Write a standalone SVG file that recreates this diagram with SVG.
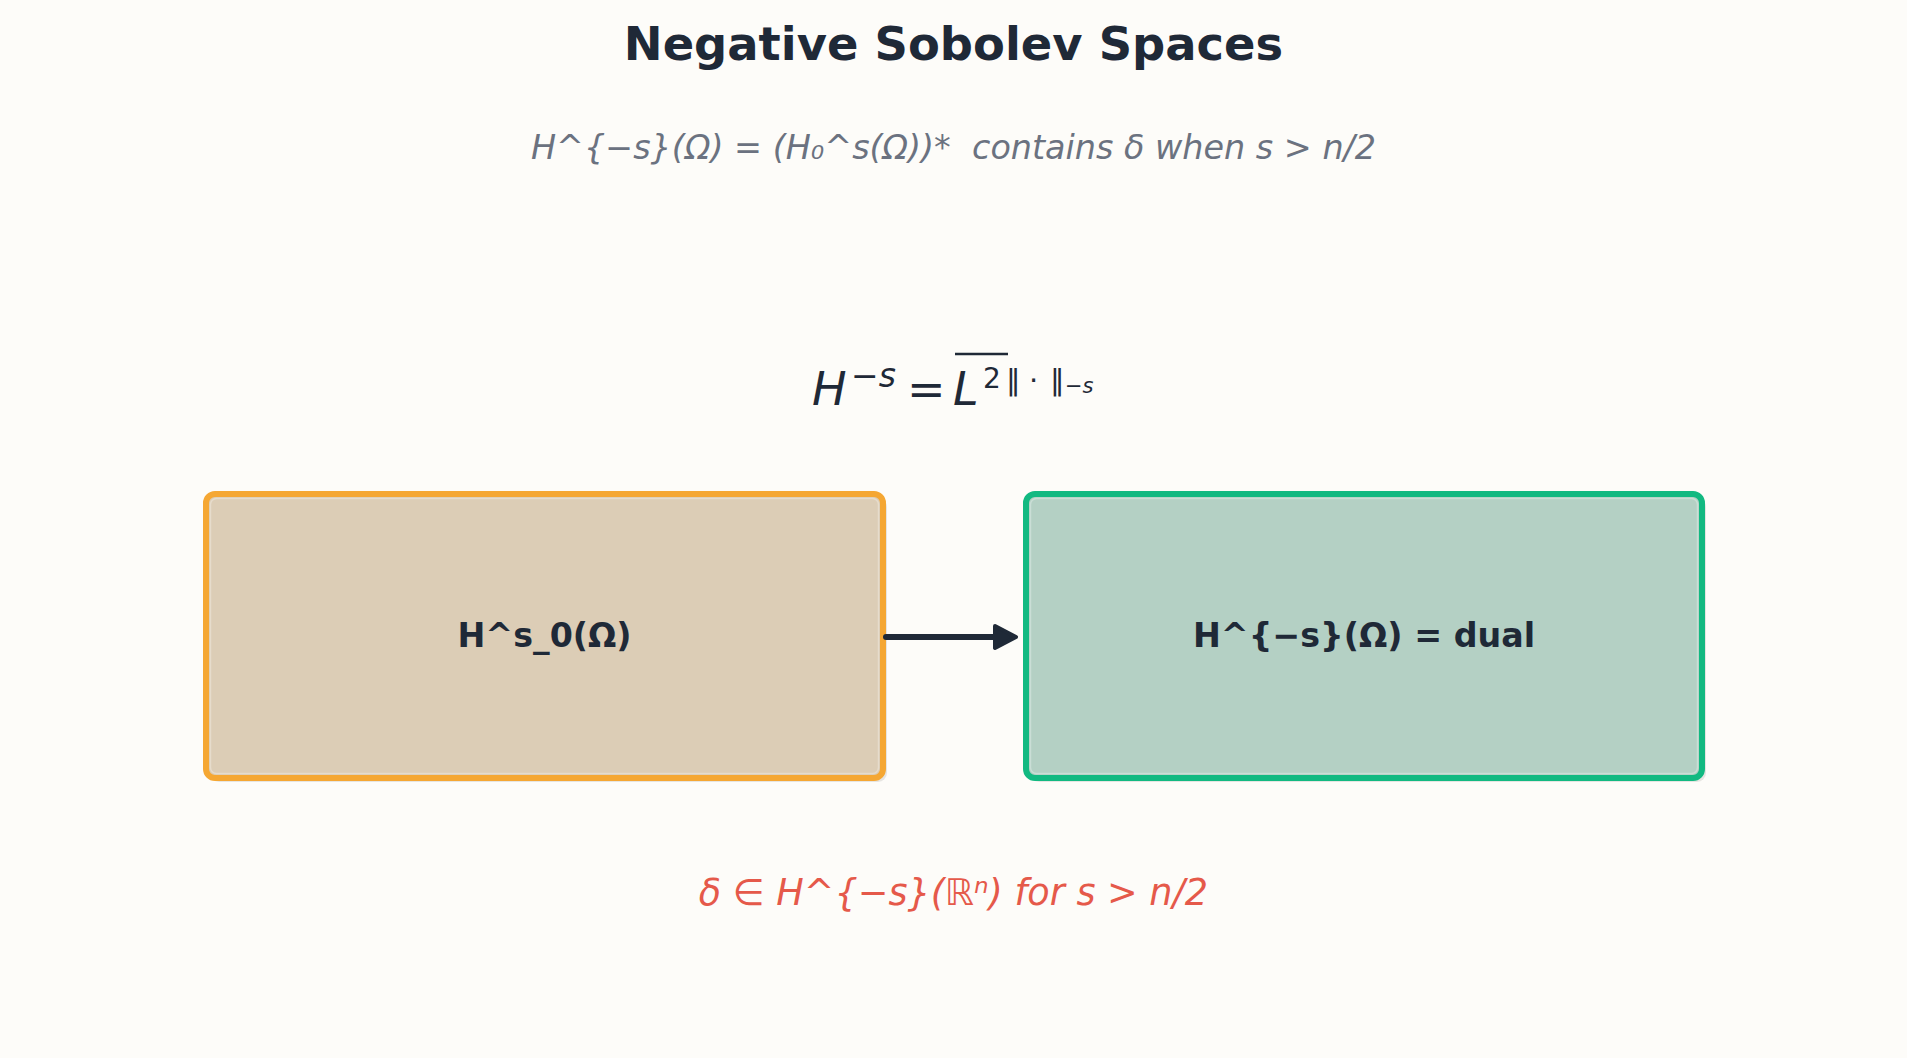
<svg xmlns="http://www.w3.org/2000/svg" width="1907" height="1058" viewBox="0 0 1907 1058">
  <defs>
    <style>
      .bg { fill: #fdfcf9; }
      .title { font-family: "DejaVu Sans", "Liberation Sans", sans-serif; font-weight: bold; font-size: 46.4px; fill: #1f2937; text-anchor: middle; }
      .sub { font-family: "DejaVu Sans", "Liberation Sans", sans-serif; font-style: italic; font-size: 33.4px; fill: #6b7280; text-anchor: middle; white-space: pre; }
      .note { font-family: "DejaVu Sans", "Liberation Sans", sans-serif; font-style: italic; font-size: 36.6px; fill: #e5594a; text-anchor: middle; }
      .math { font-family: "DejaVu Sans", "Liberation Sans", sans-serif; fill: #1f2937; }
      .mi { font-style: italic; }
      .label { font-family: "DejaVu Sans", "Liberation Sans", sans-serif; font-weight: bold; font-size: 33.3px; fill: #1f2937; text-anchor: middle; }
      .shadow { fill: #000000; fill-opacity: 0.09; }
      .hl { fill: none; stroke: #ffffff; stroke-opacity: 0.3; stroke-width: 1.5; }
      .conn { stroke: #1f2937; stroke-width: 6; stroke-linecap: round; fill: none; }
      .head { fill: #1f2937; stroke: #1f2937; stroke-width: 4; stroke-linejoin: round; }
    </style>
  </defs>

  <rect class="bg" x="0" y="0" width="1907" height="1058"/>

  <text class="title" x="953.5" y="60">Negative Sobolev Spaces</text>
  <text class="sub" x="953.5" y="159" xml:space="preserve">H^{−s}(Ω) = (H₀^s(Ω))*  contains δ when s &gt; n/2</text>

  <g id="formula" class="math">
    <text class="mi" x="812" y="405" font-size="46">H</text>
    <text x="851" y="387" font-size="33">−<tspan class="mi">s</tspan></text>
    <text x="907" y="405" font-size="46">=</text>
    <text class="mi" x="953" y="405" font-size="46">L</text>
    <line x1="955" y1="354" x2="1008" y2="354" stroke="#1f2937" stroke-width="2.5"/>
    <text x="983" y="388" font-size="28">2</text>
    <text x="1006" y="390" font-size="29">‖</text>
    <text x="1029" y="390" font-size="29">·</text>
    <text x="1050" y="390" font-size="29">‖</text>
    <text x="1065" y="393" font-size="21">−<tspan class="mi">s</tspan></text>
  </g>

  <g id="node-hs0">
    <rect class="shadow" x="210" y="498" width="677" height="284" rx="9"/>
    <rect x="206" y="494" width="677" height="284" rx="9" fill="#dccdb6" stroke="#f5a733" stroke-width="6"/>
    <rect class="hl" x="210.5" y="498.5" width="668" height="275" rx="6"/>
    <text class="label" x="544.5" y="647">H^s_0(Ω)</text>
  </g>

  <g id="node-hminus">
    <rect class="shadow" x="1030" y="498" width="676" height="284" rx="9"/>
    <rect x="1026" y="494" width="676" height="284" rx="9" fill="#b4d0c4" stroke="#12b981" stroke-width="6"/>
    <rect class="hl" x="1030.5" y="498.5" width="667" height="275" rx="6"/>
    <text class="label" x="1364" y="647">H^{−s}(Ω) = dual</text>
  </g>

  <g id="connectors">
    <line class="conn" x1="886" y1="637" x2="996" y2="637"/>
    <path class="head" d="M995,626 L1016,637 L995,648 Z"/>
  </g>

  <text class="note" x="953.5" y="905">δ ∈ H^{−s}(ℝⁿ) for s &gt; n/2</text>
</svg>
